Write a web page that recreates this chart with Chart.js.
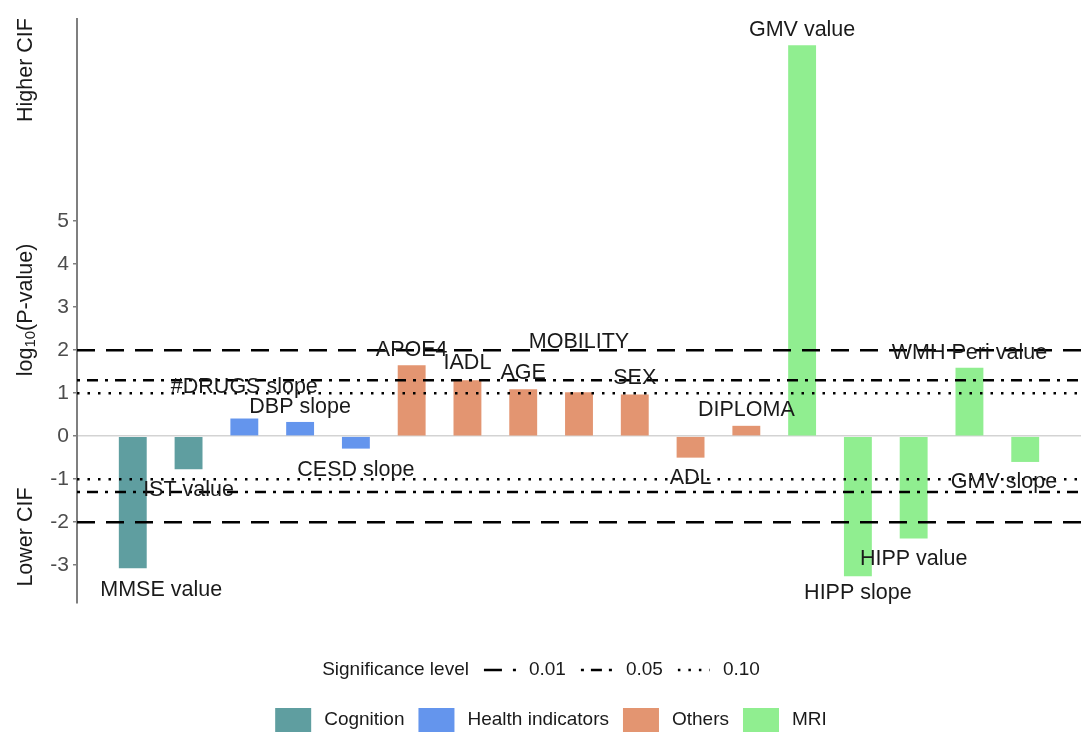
<!DOCTYPE html>
<html>
<head>
<meta charset="utf-8">
<script src="https://cdn.jsdelivr.net/npm/chart.js@4.4.1/dist/chart.umd.min.js"></script>
<style>
  body { margin: 0; background: #fff; }
  canvas { display: block; }
</style>
</head>
<body>
<canvas id="cifChart" width="1081" height="733"></canvas>
<script>
// Variables in plotting order
const categories = ['MMSE value', 'IST value', '#DRUGS slope', 'DBP slope', 'CESD slope',
    'APOE4', 'IADL', 'AGE', 'MOBILITY', 'SEX', 'ADL', 'DIPLOMA',
    'GMV value', 'HIPP slope', 'HIPP value', 'WMH Peri value', 'GMV slope'];
const groups = ['Cognition', 'Cognition', 'Health indicators', 'Health indicators', 'Health indicators',
    'Others', 'Others', 'Others', 'Others', 'Others', 'Others', 'Others',
    'MRI', 'MRI', 'MRI', 'MRI', 'MRI'];
const logP = [-3.07, -0.77, 0.41, 0.33, -0.29,
    1.65, 1.30, 1.09, 1.02, 0.97, -0.50, 0.24,
    9.09, -3.26, -2.38, 1.59, -0.60];

// label anchors (repelled labels): y in log10 units, x shift in bar slots
const labelY = [-3.58, -1.26, 1.14, 0.67, -0.79,
    2.00, 1.70, 1.47, 2.19, 1.35, -0.98, 0.60,
    9.44, -3.65, -2.86, 1.93, -1.07];
const labelShift = [0.51, 0, 0, 0, 0, 0, 0, 0, 0, 0, 0, 0, 0, 0, 0, 0, -0.38];

const groupNames = ['Cognition', 'Health indicators', 'Others', 'MRI'];
const groupColors = ['#5f9ea0', '#6495ed', '#e39571', '#90ee90'];

const yTicks = [-3, -2, -1, 0, 1, 2, 3, 4, 5];
const sigLabels = ['0.01', '0.05', '0.10'];
const sigLevels = [2, 1.3, 1];   // -log10 of the significance levels
const sigDash = [[18, 11], [3, 7, 11, 7], [2.5, 8]];

const FONT = '"Liberation Sans", Arial, sans-serif';

// one empty slot on each side so bars sit one slot away from the axis
const xLabels = [''].concat(categories, ['']);
const barData = [null].concat(logP, [null]);
const barColors = [null].concat(groups.map(g => groupColors[groupNames.indexOf(g)]), [null]);

const overlayPlugin = {
    id: 'overlay',
    afterDatasetsDraw(chart) {
        const { ctx, chartArea, scales: { x, y } } = chart;
        ctx.save();

        // significance lines above and below zero
        ctx.strokeStyle = '#000';
        ctx.lineWidth = 2.5;
        sigLevels.forEach((lv, i) => {
            ctx.setLineDash(sigDash[i]);
            [lv, -lv].forEach(v => {
                const py = y.getPixelForValue(v);
                ctx.beginPath();
                ctx.moveTo(chartArea.left, py);
                ctx.lineTo(chartArea.right, py);
                ctx.stroke();
            });
        });
        ctx.setLineDash([]);

        // bar labels
        ctx.font = '21.5px ' + FONT;
        ctx.fillStyle = '#1a1a1a';
        ctx.textAlign = 'center';
        ctx.textBaseline = 'middle';
        categories.forEach((c, i) => {
            const px = x.getPixelForValue(i + 1 + labelShift[i]);
            const py = y.getPixelForValue(labelY[i]);
            ctx.fillText(c, px, py);
        });
        ctx.restore();
    },
    afterDraw(chart) {
        const { ctx } = chart;
        ctx.save();
        ctx.fillStyle = '#1a1a1a';

        // rotated axis texts
        const vText = (txt, cx, cy) => {
            ctx.save();
            ctx.translate(cx, cy);
            ctx.rotate(-Math.PI / 2);
            ctx.font = '21.5px ' + FONT;
            ctx.textAlign = 'center';
            ctx.textBaseline = 'middle';
            ctx.fillText(txt, 0, 0);
            ctx.restore();
        };
        vText('Higher CIF', 26, 70);
        vText('Lower CIF', 26, 537);

        // log10(P-value) with subscript
        ctx.save();
        ctx.translate(26, 310);
        ctx.rotate(-Math.PI / 2);
        ctx.textBaseline = 'middle';
        ctx.textAlign = 'left';
        const big = '21.5px ' + FONT, small = '15px ' + FONT;
        ctx.font = big;
        const w1 = ctx.measureText('log').width;
        const w3 = ctx.measureText('(P-value)').width;
        ctx.font = small;
        const w2 = ctx.measureText('10').width;
        let sx = -(w1 + w2 + w3) / 2;
        ctx.font = big;
        ctx.fillText('log', sx, 0);
        sx += w1;
        ctx.font = small;
        ctx.fillText('10', sx, 5);
        sx += w2;
        ctx.font = big;
        ctx.fillText('(P-value)', sx, 0);
        ctx.restore();

        // significance legend
        ctx.font = '19px ' + FONT;
        ctx.textBaseline = 'middle';
        ctx.textAlign = 'left';
        const row1 = 670;
        const title = 'Significance level';
        let total = ctx.measureText(title).width;
        sigLabels.forEach(l => { total += 15 + 32 + 13 + ctx.measureText(l).width; });
        let cx = 541 - total / 2;
        ctx.fillText(title, cx, row1);
        cx += ctx.measureText(title).width;
        sigLabels.forEach((l, i) => {
            cx += 15;
            ctx.save();
            ctx.strokeStyle = '#000';
            ctx.lineWidth = 2.5;
            ctx.setLineDash(sigDash[i]);
            ctx.beginPath();
            ctx.moveTo(cx, row1);
            ctx.lineTo(cx + 32, row1);
            ctx.stroke();
            ctx.restore();
            cx += 32 + 13;
            ctx.fillText(l, cx, row1);
            cx += ctx.measureText(l).width;
        });

        // group legend
        const row2 = 720;
        let tot2 = 0;
        groupNames.forEach((g, i) => {
            tot2 += 36 + 13 + ctx.measureText(g).width + (i < groupNames.length - 1 ? 14 : 0);
        });
        let gx = 551 - tot2 / 2;
        groupNames.forEach((g, i) => {
            ctx.fillStyle = groupColors[i];
            ctx.fillRect(gx, row2 - 12, 36, 24);
            gx += 36 + 13;
            ctx.fillStyle = '#1a1a1a';
            ctx.fillText(g, gx, row2);
            gx += ctx.measureText(g).width + 14;
        });
        ctx.restore();
    }
};

new Chart(document.getElementById('cifChart'), {
    type: 'bar',
    data: {
        labels: xLabels,
        datasets: [{
            data: barData,
            backgroundColor: barColors,
            borderWidth: 0,
            barPercentage: 0.5,
            categoryPercentage: 1
        }]
    },
    options: {
        responsive: false,
        devicePixelRatio: 1,
        animation: false,
        layout: { padding: { left: 0, right: 0, top: 19, bottom: 130 } },
        plugins: {
            legend: { display: false },
            tooltip: { enabled: false },
            title: { display: false }
        },
        scales: {
            x: {
                type: 'category',
                display: false,
                offset: false
            },
            y: {
                min: -3.88,
                max: 9.7,
                afterBuildTicks: scale => {
                    scale.ticks = yTicks.map(v => ({ value: v }));
                },
                afterFit: scale => {
                    scale.width = 77;
                },
                ticks: {
                    callback: v => String(v),
                    color: '#4d4d4d',
                    font: { family: FONT, size: 21 },
                    padding: 4
                },
                grid: {
                    drawOnChartArea: true,
                    drawTicks: true,
                    tickLength: 4,
                    tickColor: '#7f7f7f',
                    lineWidth: 1.5,
                    color: ctx => (ctx.tick && ctx.tick.value === 0) ? '#d3d3d3' : 'rgba(0,0,0,0)'
                },
                border: { display: true, color: '#7f7f7f', width: 2 }
            }
        }
    },
    plugins: [overlayPlugin]
});
</script>
</body>
</html>
